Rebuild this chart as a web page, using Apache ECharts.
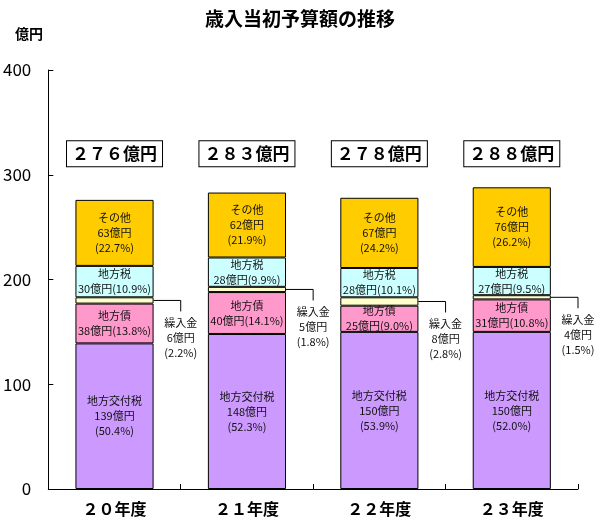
<!DOCTYPE html>
<html style="height: 100%">
<head>
    <meta charset="UTF-8">
    <title>歳入当初予算額の推移</title>
</head>
<body style="height: 100%; margin: 0; background: #fff">
<div id="container" style="width: 600px; height: 529px"></div>

<script type="text/javascript" src="https://cdn.jsdelivr.net/npm/echarts@6/dist/echarts.min.js"></script>
<script type="text/javascript">
    // 年度
    var categories = ['２０年度', '２１年度', '２２年度', '２３年度'];

    // 億円
    var kofuzei = [139, 148, 150, 150];
    var chihosai = [38, 40, 25, 31];
    var kurinyu = [6, 5, 8, 4];
    var chihozei = [30, 28, 28, 27];
    var sonota = [63, 62, 67, 76];

    // 構成比 (%)
    var kofuzeiPct = ['50.4', '52.3', '53.9', '52.0'];
    var chihosaiPct = ['13.8', '14.1', '9.0', '10.8'];
    var kurinyuPct = ['2.2', '1.8', '2.8', '1.5'];
    var chihozeiPct = ['10.9', '9.9', '10.1', '9.5'];
    var sonotaPct = ['22.7', '21.9', '24.2', '26.2'];

    var yTicks = [0, 100, 200, 300, 400];

    var FONT = '"Noto Sans CJK JP", "Noto Sans", sans-serif';
    var BAR_RATIO = 0.59;
    var TOTAL_BOX_LEVEL = 320; // 合計ボックスを置く高さ(軸の値)

    var totals = categories.map(function (c, i) {
        return kofuzei[i] + chihosai[i] + kurinyu[i] + chihozei[i] + sonota[i];
    });

    function zenkaku(s) {
        return String(s).replace(/[0-9]/g, function (d) {
            return String.fromCharCode(d.charCodeAt(0) + 0xFEE0);
        });
    }

    var dom = document.getElementById('container');
    var myChart = echarts.init(dom, null, {renderer: 'canvas'});

    var segLabel = {
        show: true,
        position: 'inside',
        color: '#111',
        fontSize: 11,
        lineHeight: 15,
        fontFamily: FONT
    };

    function barSeries(name, values, color, formatter) {
        return {
            name: name,
            type: 'bar',
            stack: 'total',
            barWidth: (BAR_RATIO * 100) + '%',
            data: values,
            itemStyle: {color: color, borderColor: '#000', borderWidth: 1},
            label: formatter ? Object.assign({formatter: formatter}, segLabel) : {show: false},
            emphasis: {disabled: true}
        };
    }

    var option = {
        animation: false,
        textStyle: {fontFamily: FONT},
        title: [
            {
                text: '歳入当初予算額の推移',
                left: 'center',
                top: 4,
                textStyle: {fontSize: 19, fontWeight: 'bold', color: '#000', fontFamily: FONT}
            },
            {
                text: '億円',
                left: 10,
                top: 22,
                textStyle: {fontSize: 14, fontWeight: 'bold', color: '#000', fontFamily: FONT}
            }
        ],
        grid: {left: 48, right: 22, top: 70, bottom: 40},
        xAxis: {
            type: 'category',
            data: categories,
            axisLine: {lineStyle: {color: '#000', width: 1}},
            axisTick: {show: true, inside: true, length: 5, lineStyle: {color: '#000'}},
            axisLabel: {color: '#000', fontSize: 16, fontWeight: 'bold', margin: 12, fontFamily: FONT}
        },
        yAxis: {
            type: 'value',
            min: yTicks[0],
            max: yTicks[yTicks.length - 1],
            interval: yTicks[1] - yTicks[0],
            axisLine: {show: true, lineStyle: {color: '#000', width: 1}},
            axisTick: {show: true, inside: true, length: 5, lineStyle: {color: '#000'}},
            splitLine: {show: false},
            axisLabel: {color: '#000', fontSize: 17, margin: 17, fontFamily: FONT}
        },
        series: [
            barSeries('地方交付税', kofuzei, '#CC99FF', function (p) {
                return '地方交付税\n' + p.value + '億円\n(' + kofuzeiPct[p.dataIndex] + '%)';
            }),
            barSeries('地方債', chihosai, '#FF99CC', function (p) {
                return '地方債\n' + p.value + '億円(' + chihosaiPct[p.dataIndex] + '%)';
            }),
            barSeries('繰入金', kurinyu, '#FFFFCC', null),
            barSeries('地方税', chihozei, '#CCFFFF', function (p) {
                return '地方税\n' + p.value + '億円(' + chihozeiPct[p.dataIndex] + '%)';
            }),
            barSeries('その他', sonota, '#FFCC00', function (p) {
                return 'その他\n' + p.value + '億円\n(' + sonotaPct[p.dataIndex] + '%)';
            }),
            {
                // 繰入金の引き出し線
                name: '繰入金注記',
                type: 'custom',
                silent: true,
                data: categories.map(function (c, i) {
                    return [i, kofuzei[i] + chihosai[i] + kurinyu[i] / 2, kurinyu[i], kurinyuPct[i]];
                }),
                encode: {x: 0, y: 1},
                renderItem: function (params, api) {
                    var i = api.value(0);
                    var pt = api.coord([i, api.value(1)]);
                    var band = api.size([1, 0])[0];
                    var x0 = pt[0] + band * BAR_RATIO / 2;
                    var x1 = pt[0] + band / 2;
                    var y = pt[1];
                    var d = params.dataIndex;
                    return {
                        type: 'group',
                        children: [
                            {
                                type: 'polyline',
                                shape: {points: [[x0, y], [x1, y], [x1, y + 11]]},
                                style: {stroke: '#000', lineWidth: 1, fill: null}
                            },
                            {
                                type: 'text',
                                style: {
                                    text: '繰入金\n' + kurinyu[d] + '億円\n(' + kurinyuPct[d] + '%)',
                                    x: x1,
                                    y: y + 15,
                                    align: 'center',
                                    verticalAlign: 'top',
                                    fontSize: 11,
                                    lineHeight: 15,
                                    fontFamily: FONT,
                                    fill: '#111'
                                }
                            }
                        ]
                    };
                }
            },
            {
                // 合計ボックス
                name: '合計',
                type: 'custom',
                silent: true,
                data: categories.map(function (c, i) {
                    return [i, TOTAL_BOX_LEVEL, totals[i]];
                }),
                encode: {x: 0, y: 1},
                renderItem: function (params, api) {
                    var pt = api.coord([api.value(0), api.value(1)]);
                    return {
                        type: 'text',
                        style: {
                            text: zenkaku(totals[params.dataIndex]) + '億円',
                            x: pt[0],
                            y: pt[1],
                            align: 'center',
                            verticalAlign: 'middle',
                            fontSize: 17,
                            fontWeight: 'bold',
                            fontFamily: FONT,
                            fill: '#000',
                            backgroundColor: '#fff',
                            borderColor: '#000',
                            borderWidth: 1,
                            padding: [3, 5],
                            lineHeight: 19
                        }
                    };
                }
            }
        ]
    };

    myChart.setOption(option);
</script>
</body>
</html>
